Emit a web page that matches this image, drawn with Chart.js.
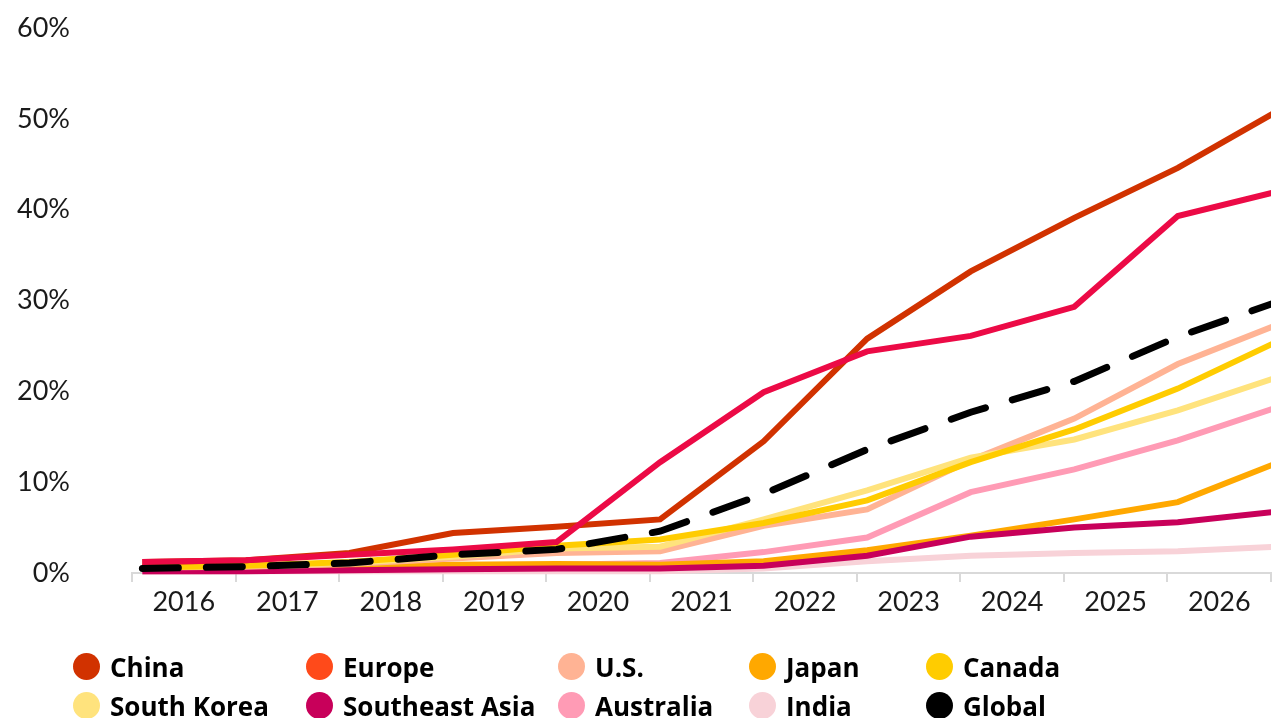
<!DOCTYPE html>
<html>
<head>
<meta charset="utf-8">
<script src="https://cdn.jsdelivr.net/npm/chart.js@4"></script>
<style>
  body { margin: 0; background: #fff; }
  #wrap { position: relative; width: 1275px; height: 718px; }
  #legend {
    position: absolute; left: 73px; top: 647px;
    display: grid; grid-template-columns: 233px 252px 191px 177px 200px;
    grid-auto-rows: 39px;
    font-family: "Open Sans", sans-serif; font-weight: 700; font-size: 26px; color: #000;
  }
  .item { display: flex; align-items: center; white-space: nowrap; }
  .dot { width: 27px; height: 27px; border-radius: 50%; margin-right: 10px; flex: none; }
</style>
</head>
<body>
<div id="wrap">
  <canvas id="adoptionChart"></canvas>
  <div id="legend"></div>
</div>
<script>
// x positions are yearly readings, 0 = start of 2016
const pointIndex = [0, 1, 2, 3, 4, 5, 6, 7, 8, 9, 10, 11];
const yearLabels = ['2016', '2017', '2018', '2019', '2020', '2021', '2022', '2023', '2024', '2025', '2026'];
const yTicks = [0, 10, 20, 30, 40, 50, 60];

const china = [1.2, 1.4, 2.2, 4.4, 5.1, 5.9, 14.5, 25.8, 33.2, 39.1, 44.6, 51.1];
const europe = [1.2, 1.4, 2.0, 2.6, 3.4, 12.2, 19.9, 24.4, 26.1, 29.3, 39.3, 42.1];
const us = [0.6, 0.7, 1.0, 1.6, 2.2, 2.4, 5.2, 7.0, 12.4, 17.0, 23.0, 27.5];
const japan = [0.5, 0.6, 0.7, 0.9, 1.0, 0.9, 1.3, 2.5, 4.1, 5.9, 7.8, 12.3];
const canada = [0.6, 0.8, 1.2, 2.0, 3.0, 3.7, 5.5, 8.0, 12.2, 15.8, 20.3, 25.7];
const southKorea = [0.6, 0.8, 1.1, 1.8, 2.7, 2.9, 5.9, 9.1, 12.7, 14.7, 17.9, 21.7];
const seAsia = [0.2, 0.2, 0.3, 0.4, 0.5, 0.5, 0.8, 1.9, 4.0, 5.0, 5.6, 6.8];
const australia = [0.3, 0.3, 0.4, 0.6, 0.9, 1.1, 2.3, 3.9, 8.9, 11.4, 14.6, 18.4];
const india = [0.1, 0.2, 0.2, 0.2, 0.2, 0.2, 0.5, 1.3, 1.9, 2.2, 2.4, 2.9];
const global = [0.5, 0.7, 1.1, 2.0, 2.6, 4.6, 8.7, 13.6, 17.7, 21.1, 26.0, 30.0];

// legend order; line colour and legend dot colour (Europe differs in the original)
const series = [
  { name: 'China', data: china, line: '#D13200', dot: '#D13200', order: 3 },
  { name: 'Europe', data: europe, line: '#EC0A46', dot: '#FF4A1A', order: 2 },
  { name: 'U.S.', data: us, line: '#FFB394', dot: '#FFB394', order: 6 },
  { name: 'Japan', data: japan, line: '#FFA800', dot: '#FFA800', order: 8 },
  { name: 'Canada', data: canada, line: '#FFCC00', dot: '#FFCC00', order: 4 },
  { name: 'South Korea', data: southKorea, line: '#FFE37D', dot: '#FFE37D', order: 5 },
  { name: 'Southeast Asia', data: seAsia, line: '#C8005A', dot: '#C8005A', order: 7 },
  { name: 'Australia', data: australia, line: '#FF9BB5', dot: '#FF9BB5', order: 9 },
  { name: 'India', data: india, line: '#F8D2D8', dot: '#F8D2D8', order: 10 },
  { name: 'Global', data: global, line: '#000000', dot: '#000000', order: 1, dashed: true }
];

const xMin = -0.1;
const xMax = 10.9;

const datasets = series.map(s => ({
  label: s.name,
  data: s.data.map((v, i) => ({ x: pointIndex[i], y: v })),
  borderColor: s.line,
  backgroundColor: s.dot,
  borderWidth: s.dashed ? 7 : 6,
  borderDash: s.dashed ? [36, 28] : [],
  borderCapStyle: s.dashed ? 'round' : 'butt',
  borderJoinStyle: 'miter',
  pointRadius: 0,
  tension: 0,
  order: s.order,
  clip: { left: 0, right: 0, top: 6, bottom: 6 }
}));

new Chart(document.getElementById('adoptionChart').getContext('2d'), {
  type: 'line',
  data: { datasets: datasets },
  options: {
    responsive: true,
    maintainAspectRatio: false,
    animation: false,
    layout: { padding: { left: 8, right: 0, top: 28, bottom: 0 } },
    plugins: { legend: { display: false }, tooltip: { enabled: false } },
    scales: {
      x: {
        type: 'linear',
        min: xMin,
        max: xMax,
        afterBuildTicks: scale => {
          const t = [];
          for (let k = 0; k <= yearLabels.length * 2; k++) t.push({ value: xMin + k / 2 });
          scale.ticks = t;
        },
        afterFit: scale => { scale.height = 145; },
        border: { display: true, color: '#d9d9d9', width: 2 },
        grid: {
          drawOnChartArea: false,
          tickLength: 9,
          lineWidth: 2,
          tickColor: ctx => {
            const k = Math.round((ctx.tick.value - xMin) * 2);
            return k % 2 === 0 ? '#d9d9d9' : 'rgba(0,0,0,0)';
          }
        },
        ticks: {
          autoSkip: false,
          maxRotation: 0,
          padding: 4,
          color: '#1a1a1a',
          font: { family: 'Lato', size: 27 },
          callback: function(value, index) {
            return index % 2 === 1 ? yearLabels[(index - 1) / 2] : '';
          }
        }
      },
      y: {
        min: 0,
        max: 60,
        afterBuildTicks: scale => { scale.ticks = yTicks.map(v => ({ value: v })); },
        afterFit: scale => { scale.width = 124; },
        border: { display: false },
        // invisible tick marks give the gap between labels and plot
        grid: { display: true, drawOnChartArea: false, drawTicks: true, tickLength: 62, tickColor: 'rgba(0,0,0,0)' },
        ticks: {
          padding: 0,
          color: '#1a1a1a',
          font: { family: 'Lato', size: 27 },
          callback: v => v + '%'
        }
      }
    }
  }
});

const legendEl = document.getElementById('legend');
series.forEach(s => {
  const item = document.createElement('div');
  item.className = 'item';
  const dot = document.createElement('span');
  dot.className = 'dot';
  dot.style.background = s.dot;
  const txt = document.createElement('span');
  txt.textContent = s.name;
  item.appendChild(dot);
  item.appendChild(txt);
  legendEl.appendChild(item);
});
</script>
</body>
</html>
